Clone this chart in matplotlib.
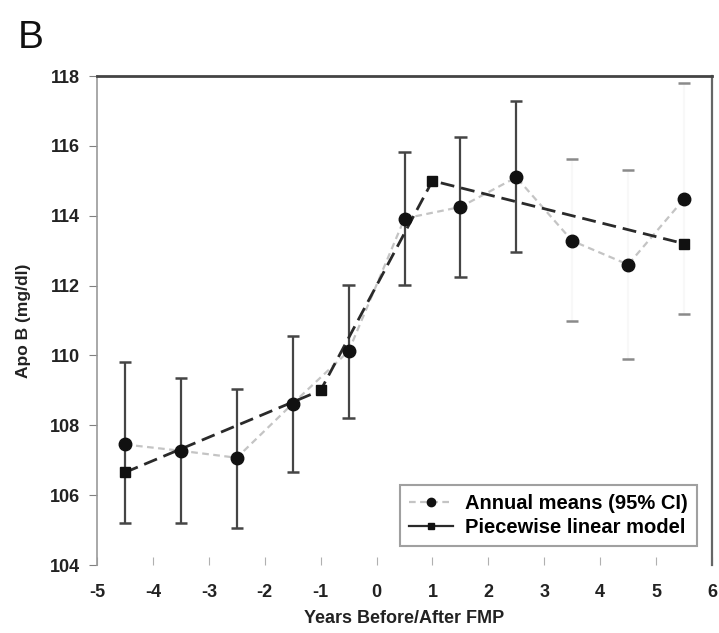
import matplotlib
matplotlib.use("Agg")
import matplotlib.pyplot as plt
from matplotlib.lines import Line2D

plt.rcParams['font.family'] = ['Liberation Sans', 'DejaVu Sans']

# Annual means of Apo B with 95% confidence limits
years = [-4.5, -3.5, -2.5, -1.5, -0.5, 0.5, 1.5, 2.5, 3.5, 4.5, 5.5]
means = [107.45, 107.27, 107.07, 108.62, 110.12, 113.92, 114.25, 115.1, 113.28, 112.6, 114.48]
ci_low = [105.2, 105.2, 105.05, 106.65, 108.2, 112.02, 112.25, 112.95, 111.0, 109.9, 111.2]
ci_high = [109.8, 109.35, 109.05, 110.55, 112.02, 115.82, 116.25, 117.28, 115.62, 115.3, 117.8]

# Piecewise linear model knots
pw_years = [-4.5, -1, 1, 5.5]
pw_values = [106.65, 109.0, 115.0, 113.2]

xticks = [-5, -4, -3, -2, -1, 0, 1, 2, 3, 4, 5, 6]
yticks = [104, 106, 108, 110, 112, 114, 116, 118]

fig = plt.figure(figsize=(7.19, 6.33), dpi=100)
ax = fig.add_axes([97 / 719, 68 / 633, 615 / 719, 489 / 633])

# error bars: dark for the first years, faint for the last three
n_dark = 8
for i, (x, m, lo, hi) in enumerate(zip(years, means, ci_low, ci_high)):
    dark = i < n_dark
    vcol = '#454545' if dark else '#f8f8f8'
    ccol = '#454545' if dark else '#8a8a8a'
    ax.vlines(x, lo, hi, color=vcol, lw=1.6, zorder=2)
    ax.hlines([lo, hi], x - 0.11, x + 0.11, color=ccol, lw=1.8, zorder=2)

ax.plot(years, means, color='#c4c4c4', lw=1.6, ls=(0, (3, 2)), zorder=3)
ax.plot(years, means, 'o', color='#111111', ms=9, zorder=5)
ax.plot(pw_years, pw_values, color='#2a2a2a', lw=2.0, ls=(0, (5, 2.5)), zorder=4)
ax.plot(pw_years, pw_values, 's', color='#111111', ms=7.5, zorder=5)

ax.set_xlim(-5, 6)
ax.set_ylim(104, 118)
ax.set_xticks(xticks)
ax.set_yticks(yticks)
ax.set_xticklabels([str(t) for t in xticks], fontsize=13, fontweight='bold', color='#222222')
ax.set_yticklabels([str(t) for t in yticks], fontsize=13, fontweight='bold', color='#222222')
ax.tick_params(axis='x', direction='in', length=6, color='#b0b0b0', pad=14)
ax.tick_params(axis='y', direction='out', length=6, color='#808080', pad=6)

ax.spines['top'].set_color('#444444')
ax.spines['top'].set_linewidth(2.0)
ax.spines['right'].set_color('#666666')
ax.spines['right'].set_linewidth(1.6)
ax.spines['left'].set_color('#999999')
ax.spines['left'].set_linewidth(1.2)
ax.spines['bottom'].set_visible(False)

ax.set_xlabel('Years Before/After FMP', fontsize=13, fontweight='bold', color='#222222', labelpad=6)
ax.set_ylabel('Apo B (mg/dl)', fontsize=12.5, fontweight='bold', color='#222222', labelpad=14)

handles = [
    Line2D([], [], color='#c4c4c4', lw=1.6, ls=(0, (3, 2)), marker='o', mfc='#111111', mec='#111111', ms=6),
    Line2D([], [], color='#2a2a2a', lw=1.6, marker='s', mfc='#111111', mec='#111111', ms=5),
]
leg = ax.legend(handles, ['Annual means (95% CI)', 'Piecewise linear model'],
                loc='lower right', bbox_to_anchor=(0.976, 0.039),
                prop={'weight': 'bold', 'size': 14.5}, frameon=True, fancybox=False,
                shadow=False, borderpad=0.45, handlelength=2.2, handletextpad=0.6,
                labelspacing=0.25, borderaxespad=0)
leg.get_frame().set_edgecolor('#888888')
leg.get_frame().set_linewidth(1.5)

fig.text(0.025, 0.968, 'B', fontsize=28, va='top', ha='left', color='#111111')

fig.savefig('out.png', dpi=100)
